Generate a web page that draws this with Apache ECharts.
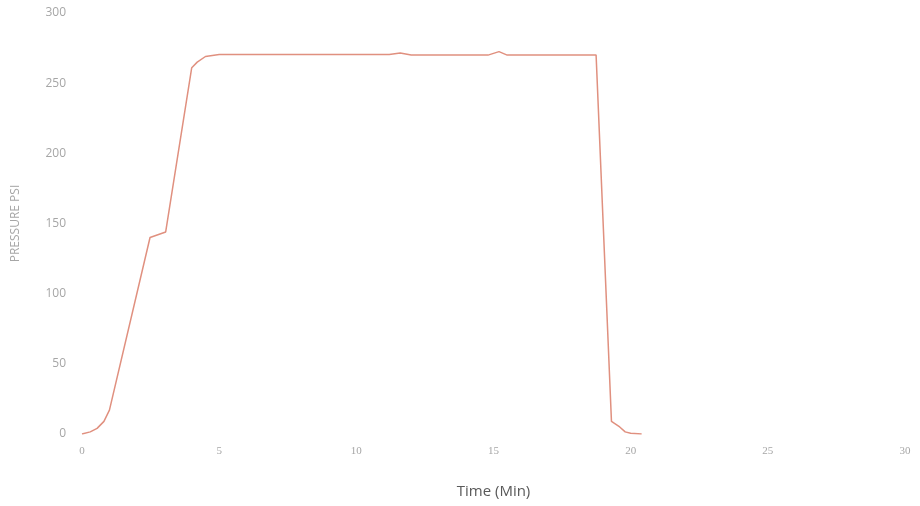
<!DOCTYPE html>
<html>
<head>
<meta charset="utf-8">
<script src="https://cdn.jsdelivr.net/npm/echarts@6/dist/echarts.min.js"></script>
<style>html,body{margin:0;padding:0;background:#fff;}#c{width:920px;height:506px;}</style>
</head>
<body>
<div id="c"></div>
<script>
var timeMin = [0, 0.3, 0.55, 0.8, 1.0, 2.48, 3.05, 4.0, 4.2, 4.5, 5.0, 8, 11.2, 11.6, 12.0, 14.8, 15.2, 15.5, 18.74, 19.3, 19.6, 19.8, 20.0, 20.4];
var pressurePsi = [0, 1.5, 4, 9, 17, 140, 144, 261, 265, 269, 270.5, 270.5, 270.5, 271.5, 270, 270, 272.5, 270, 270, 9, 5, 1.5, 0.5, 0];
var xTicks = [0, 5, 10, 15, 20, 25, 30];
var yTicks = [0, 50, 100, 150, 200, 250, 300];

var data = timeMin.map(function (t, i) { return [t, pressurePsi[i]]; });
var chart = echarts.init(document.getElementById('c'));
chart.setOption({
  animation: false,
  grid: { left: 82, right: 15, top: 13, bottom: 72 },
  xAxis: {
    type: 'value', min: xTicks[0], max: xTicks[xTicks.length - 1], interval: 5,
    name: 'Time (Min)', nameLocation: 'middle', nameGap: 50,
    nameTextStyle: { color: '#595959', fontSize: 15, fontFamily: 'Open Sans' },
    axisLine: { show: false }, axisTick: { show: false }, splitLine: { show: false },
    axisLabel: { color: '#a6a6a6', fontSize: 11, margin: 12, fontFamily: 'Liberation Serif' }
  },
  yAxis: {
    type: 'value', min: yTicks[0], max: yTicks[yTicks.length - 1], interval: 50,
    name: 'PRESSURE PSI', nameLocation: 'middle', nameGap: 60, nameRotate: 90,
    nameTextStyle: { color: '#a6a6a6', fontSize: 12, fontFamily: 'Open Sans' },
    axisLine: { show: false }, axisTick: { show: false }, splitLine: { show: false },
    axisLabel: { color: '#a6a6a6', fontSize: 12, margin: 16, fontFamily: 'Open Sans' }
  },
  series: [{
    type: 'line', data: data, showSymbol: false, symbol: 'none',
    lineStyle: { color: '#e0907f', width: 1.5 }
  }]
});
</script>
</body>
</html>
